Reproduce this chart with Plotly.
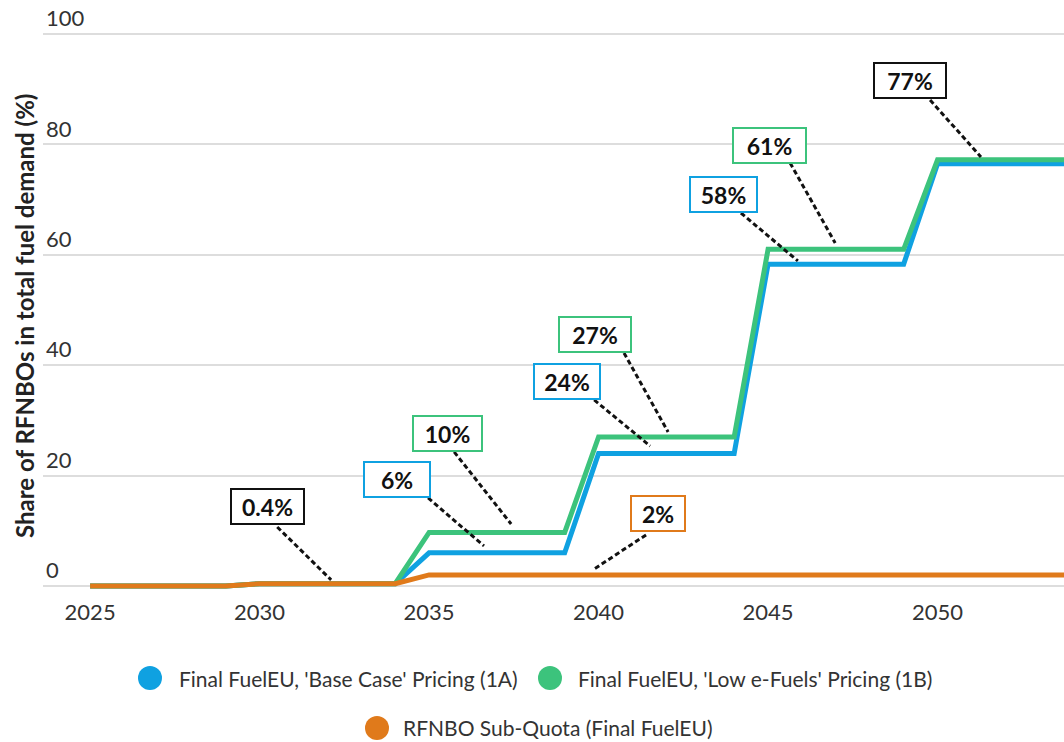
import plotly.graph_objects as go

# ---------------- data ----------------
years = list(range(2025, 2056))
base_case_1a = [0, 0, 0, 0, 0, 0.4, 0.4, 0.4, 0.4, 0.4,
                6, 6, 6, 6, 6, 24, 24, 24, 24, 24,
                58.3, 58.3, 58.3, 58.3, 58.3, 76.5, 76.5, 76.5, 76.5, 76.5, 76.5]
low_efuels_1b = [0, 0, 0, 0, 0, 0.4, 0.4, 0.4, 0.4, 0.4,
                 9.7, 9.7, 9.7, 9.7, 9.7, 27, 27, 27, 27, 27,
                 61, 61, 61, 61, 61, 77.2, 77.2, 77.2, 77.2, 77.2, 77.2]
rfnbo_subquota = [0, 0, 0, 0, 0, 0.4, 0.4, 0.4, 0.4, 0.4,
                  2, 2, 2, 2, 2, 2, 2, 2, 2, 2,
                  2, 2, 2, 2, 2, 2, 2, 2, 2, 2, 2]

series_names = ["Final FuelEU, 'Base Case' Pricing (1A)",
                "Final FuelEU, 'Low e-Fuels' Pricing (1B)",
                "RFNBO Sub-Quota (Final FuelEU)"]
series_colors = ["#0fa1e1", "#3cc37c", "#e07a1b"]

y_title = "Share of RFNBOs in total fuel demand (%)"
y_ticks = [0, 20, 40, 60, 80, 100]
x_ticks = [2025, 2030, 2035, 2040, 2045, 2050]

# callout labels: text, box centre (x, y), leader start, leader end, border colour
label_texts = ["0.4%", "6%", "10%", "2%", "24%", "27%", "58%", "61%", "77%"]
label_x = [2030.24, 2034.06, 2035.55, 2041.76, 2039.07, 2039.90, 2043.69, 2045.04, 2049.19]
label_y = [14.40, 19.29, 27.63, 13.13, 37.05, 45.47, 71.01, 79.89, 91.58]
leader_x0 = [2030.52, 2034.97, 2035.74, 2041.40, 2039.87, 2040.75, 2044.20, 2045.65, 2049.78]
leader_y0 = [10.69, 15.94, 24.28, 9.24, 33.70, 42.21, 67.57, 76.63, 88.04]
leader_x1 = [2032.11, 2036.62, 2037.42, 2039.87, 2041.52, 2042.05, 2045.88, 2046.98, 2051.28]
leader_y1 = [1.09, 7.25, 11.23, 3.08, 25.36, 27.90, 58.88, 62.14, 77.72]
label_colors = ["#111111", "#0fa1e1", "#3cc37c", "#e07a1b", "#0fa1e1",
                "#3cc37c", "#0fa1e1", "#3cc37c", "#111111"]
label_widths = [63, 56, 59, 44, 56, 62, 57, 63, 62]

FONT = "Lato"

fig = go.Figure()
for name, vals, col in zip(series_names, [base_case_1a, low_efuels_1b, rfnbo_subquota], series_colors):
    fig.add_trace(go.Scatter(x=years, y=vals, mode="lines", name=name,
                             line=dict(color=col, width=5), showlegend=False,
                             hoverinfo="x+y"))

# leader lines
for x0, y0, x1, y1 in zip(leader_x0, leader_y0, leader_x1, leader_y1):
    fig.add_shape(type="line", x0=x0, y0=y0, x1=x1, y1=y1, xref="x", yref="y",
                  line=dict(color="#111111", width=3, dash="5px,3px"), layer="above")

# callout boxes
for t, x, y, c, w in zip(label_texts, label_x, label_y, label_colors, label_widths):
    fig.add_annotation(x=x, y=y, xref="x", yref="y", text="<b>%s</b>" % t, showarrow=False,
                       font=dict(family=FONT, size=23, color="#111111"),
                       bgcolor="white", bordercolor=c, borderwidth=2, borderpad=4,
                       width=w, height=25, align="center")

# manual legend (circles + text), positions in pixels converted to paper coords
L, R, T, B = 43, 0, 0, 145
W, H = 1064, 742
pw, ph = W - L - R, H - T - B


def px_x(p):
    return (p - L) / pw


def px_y(p):
    return (H - B - p) / ph


legend_circle_px = [(150, 678), (550, 678), (377, 728)]
legend_text_px = [(177, 678), (576, 678), (401, 727)]
for (cx, cy), (tx, ty), name, col in zip(legend_circle_px, legend_text_px, series_names, series_colors):
    fig.add_shape(type="circle", xref="paper", yref="paper", xsizemode="pixel", ysizemode="pixel",
                  xanchor=px_x(cx), yanchor=px_y(cy), x0=-12, x1=12, y0=-12, y1=12,
                  fillcolor=col, line=dict(width=0))
    fig.add_annotation(x=px_x(tx), y=px_y(ty), xref="paper", yref="paper", text=name,
                       showarrow=False, xanchor="left", yanchor="middle",
                       font=dict(family=FONT, size=21, color="#333333"))

# y-axis title (as a rotated annotation so it can sit where the reference has it)
fig.add_annotation(x=px_x(24), y=px_y(316), xref="paper", yref="paper",
                   text="<b>%s</b>" % y_title, textangle=-90, showarrow=False,
                   xanchor="center", yanchor="middle",
                   font=dict(family=FONT, size=24, color="#222222"))

fig.update_layout(
    width=W, height=H,
    margin=dict(l=L, r=R, t=T, b=B, autoexpand=False),
    paper_bgcolor="white", plot_bgcolor="white",
    font=dict(family=FONT, size=22, color="#333333"),
    showlegend=False,
    xaxis=dict(range=[2023.61, 2053.73], tickvals=x_ticks, ticktext=[str(v) for v in x_ticks],
               showgrid=False, zeroline=False, showline=False, ticks="",
               tickfont=dict(family=FONT, size=22, color="#333333")),
    yaxis=dict(range=[-2, 106.16], tickvals=y_ticks, ticktext=[str(v) for v in y_ticks],
               showgrid=True, gridcolor="#dddddd", gridwidth=1.5, zeroline=False,
               showline=False, ticks="", ticklabelposition="inside top",
               tickfont=dict(family=FONT, size=22, color="#333333")),
)

fig.write_html("out.html", config={"displayModeBar": False},
               post_script="document.body.style.margin='0';")
